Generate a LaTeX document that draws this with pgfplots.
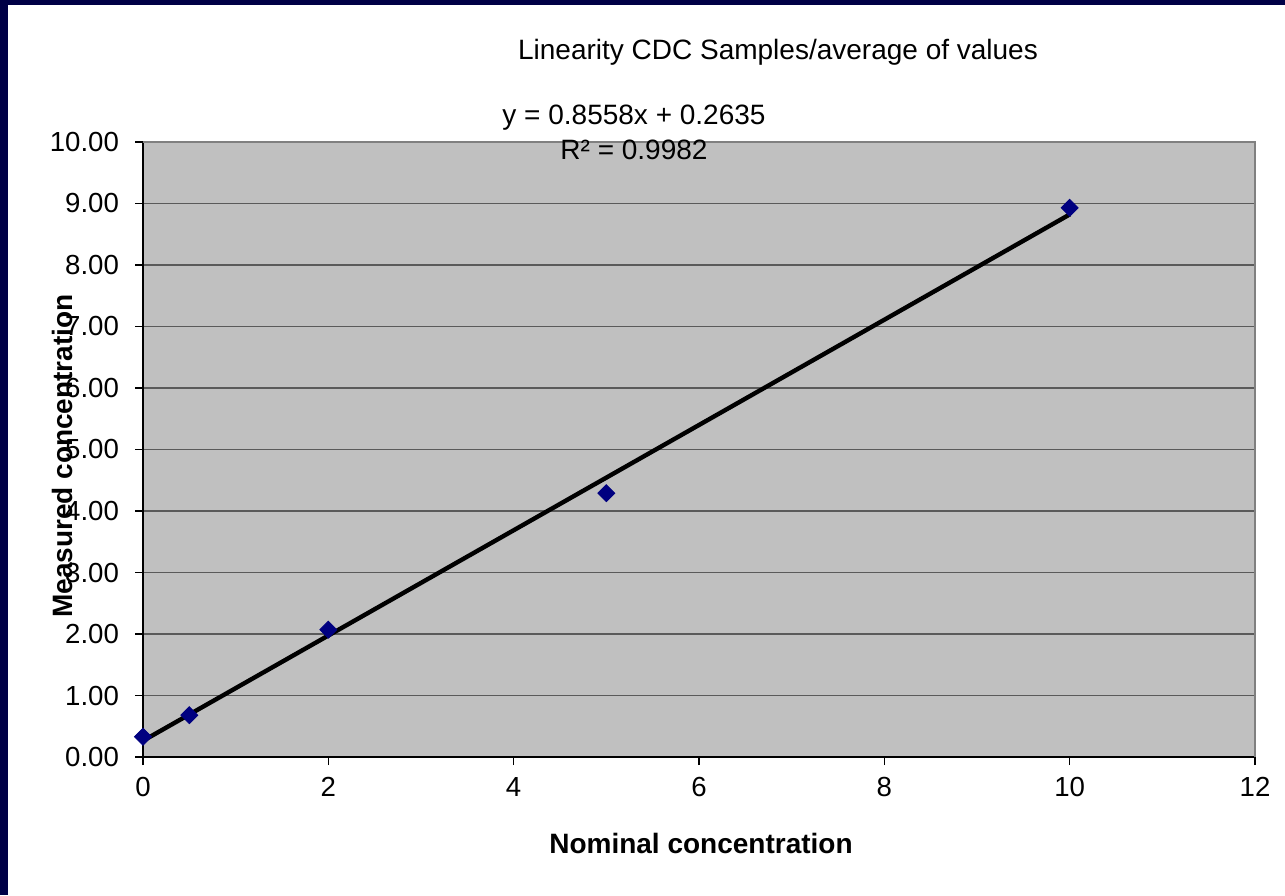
\documentclass[border=0pt]{standalone}
\usepackage{pgfplots}
\pgfplotsset{compat=1.18}
\usepackage{fontspec}
\setmainfont{Liberation Sans}
\definecolor{frame}{RGB}{0,0,70}
\definecolor{plotbg}{RGB}{192,192,192}
\definecolor{gridc}{RGB}{90,90,90}
\definecolor{mk}{RGB}{0,0,128}
\begin{document}
\begin{tikzpicture}[x=0.5pt,y=0.5pt]
\fill[white] (0,0) rectangle (1285,895);
\fill[frame] (0,0) rectangle (8,895);
\fill[frame] (0,890) rectangle (1285,895);
\begin{axis}[
  at={(71.5pt,69pt)}, anchor=south west,
  scale only axis, width=556pt, height=307.5pt,
  xmin=0, xmax=12, ymin=0, ymax=10,
  xtick={0,2,...,12}, ytick={0,1,...,10},
  axis x line*=bottom, axis y line*=left,
  axis line style={black, line width=0.8pt, -},
  axis background/.style={fill=plotbg},
  tick align=outside, major tick length=4pt,
  tick style={black, line width=0.6pt},
  ymajorgrids, grid style={gridc, line width=0.7pt},
  /pgf/number format/assume math mode=true,
  ticklabel style={font=\fontsize{13.8}{16}\selectfont},
  yticklabel style={xshift=-4.5pt, /pgf/number format/.cd, fixed, fixed zerofill, precision=2},
  xticklabel style={yshift=-2.5pt, /pgf/number format/fixed},
  clip=false,
]
\draw[gray, line width=1pt] (rel axis cs:0,1) -- (rel axis cs:1,1) -- (rel axis cs:1,0);
\addplot[black, line width=2.2pt, no marks] coordinates {(0,0.2635) (10,8.8215)};
\addplot[only marks, mark=square*, mark size=3pt, mark options={rotate=45, fill=mk, draw=mk}]
  coordinates {(0,0.33) (0.5,0.68) (2,2.07) (5,4.29) (10,8.93)};
\end{axis}
\node[font=\fontsize{14}{16}\selectfont] at (778,843) {Linearity CDC Samples/average of values};
\node[font=\fontsize{14}{16}\selectfont] at (634,777) {y = 0.8558x + 0.2635};
\node[font=\fontsize{14}{16}\selectfont] at (634,745) {R² = 0.9982};
\node[font=\bfseries\fontsize{14}{16}\selectfont] at (701,52) {Nominal concentration};
\node[font=\bfseries\fontsize{14}{16}\selectfont, rotate=90] at (62,439) {Measured concentration};
\end{tikzpicture}
\end{document}
